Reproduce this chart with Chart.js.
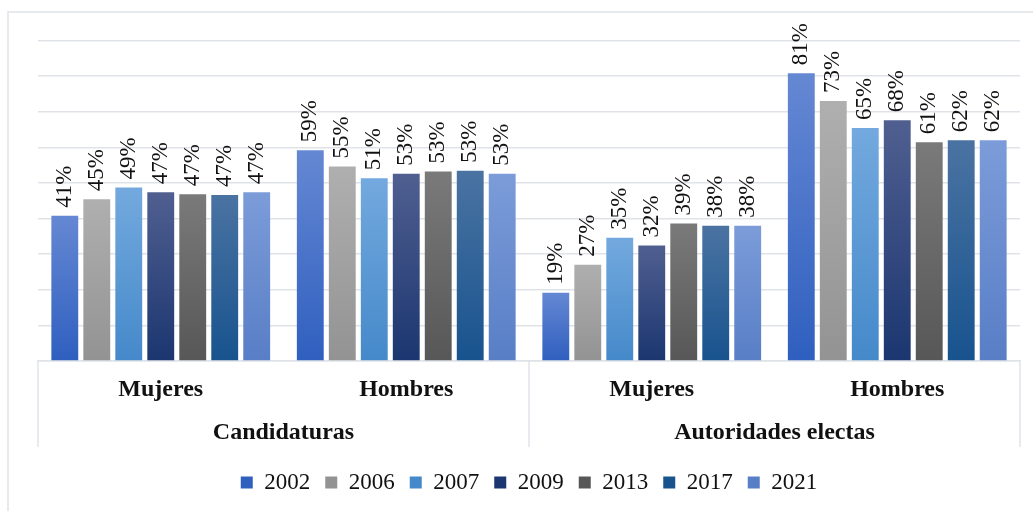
<!DOCTYPE html>
<html>
<head>
<meta charset="utf-8">
<script src="https://cdn.jsdelivr.net/npm/chart.js"></script>
<style>
    body { margin: 0; background: #fff; }
</style>
</head>
<body>
<canvas id="bar-chart" width="1033" height="511"></canvas>
<script>
    var categories = ['Mujeres', 'Hombres', 'Mujeres', 'Hombres'];
    var groups = ['Candidaturas', 'Autoridades electas'];
    var years = ['2002', '2006', '2007', '2009', '2013', '2017', '2021'];

    // porcentajes (Mujeres/Hombres por grupo)
    var v2002 = [40.8, 59.2, 19.2, 80.8];
    var v2006 = [45.4, 54.6, 27.0, 73.0];
    var v2007 = [48.7, 51.3, 34.6, 65.4];
    var v2009 = [47.4, 52.6, 32.4, 67.6];
    var v2013 = [46.8, 53.2, 38.6, 61.4];
    var v2017 = [46.6, 53.4, 38.0, 62.0];
    var v2021 = [47.4, 52.6, 38.0, 62.0];

    var values = [v2002, v2006, v2007, v2009, v2013, v2017, v2021];

    // colores: arriba claro, abajo oscuro, y el color medio para la leyenda
    var topColors = ['#6588d3', '#afafaf', '#73a9de', '#505f90', '#7a7a7a', '#4a73a2', '#7c9cd9'];
    var bottomColors = ['#2f5fbf', '#939393', '#4589ca', '#1b3670', '#575757', '#18538e', '#587ec6'];
    var midColors = ['#4a73c9', '#a0a0a0', '#5c99d4', '#354a80', '#686868', '#2f6399', '#6a8dd0'];

    var serif = "'Liberation Serif', 'Times New Roman', serif";
    var lineColor = '#dfe3e8';

    function barFill(i) {
        return function (ctx) {
            var chart = ctx.chart;
            if (ctx.type !== 'data' || !chart.chartArea) {
                return midColors[i];
            }
            var y = chart.scales.y;
            var top = y.getPixelForValue(ctx.raw);
            var base = y.getPixelForValue(0);
            var g = chart.ctx.createLinearGradient(0, top, 0, base);
            g.addColorStop(0, topColors[i]);
            g.addColorStop(1, bottomColors[i]);
            return g;
        };
    }

    var datasets = years.map(function (year, i) {
        return {
            label: year,
            data: values[i],
            backgroundColor: barFill(i),
            borderWidth: 0,
            categoryPercentage: 0.912,
            barPercentage: 0.84
        };
    });

    var framePlugin = {
        id: 'frame',
        beforeDraw: function (chart) {
            var c = chart.ctx;
            c.save();
            c.fillStyle = '#fff';
            c.fillRect(0, 0, chart.width, chart.height);
            c.strokeStyle = lineColor;
            c.lineWidth = 1.5;
            c.strokeRect(8, 12, chart.width + 20, chart.height + 20);
            c.restore();
        },
        afterDraw: function (chart) {
            var c = chart.ctx;
            var xs = chart.scales.x;
            var x2 = chart.scales.x2;

            // separadores del eje de categorias
            var mid = (xs.getPixelForTick(1) + xs.getPixelForTick(2)) / 2;
            c.save();
            c.strokeStyle = lineColor;
            c.lineWidth = 1.5;
            [xs.left, mid, xs.right].forEach(function (px) {
                c.beginPath();
                c.moveTo(px, xs.top);
                c.lineTo(px, x2.bottom - 9);
                c.stroke();
            });
            c.restore();

            // etiquetas de valor giradas
            c.save();
            c.fillStyle = '#111';
            c.font = '23px ' + serif;
            c.textAlign = 'left';
            c.textBaseline = 'middle';
            chart.data.datasets.forEach(function (ds, i) {
                var meta = chart.getDatasetMeta(i);
                meta.data.forEach(function (bar, j) {
                    c.save();
                    c.translate(bar.x, bar.y - 8);
                    c.rotate(-Math.PI / 2);
                    c.fillText(Math.round(ds.data[j]) + '%', 0, 0);
                    c.restore();
                });
            });
            c.restore();
        }
    };

    var ctx = document.getElementById('bar-chart');
    var chart = new Chart(ctx, {

        type: 'bar',

        data: {
            labels: categories,
            datasets: datasets
        },

        options: {
            responsive: false,
            animation: false,
            layout: {
                padding: { top: 40.5, left: 38, right: 13, bottom: 7 }
            },
            plugins: {
                legend: {
                    position: 'bottom',
                    labels: {
                        boxWidth: 12,
                        boxHeight: 12,
                        padding: 15,
                        color: '#111',
                        font: { family: serif, size: 23 }
                    }
                },
                tooltip: { enabled: false }
            },
            scales: {
                y: {
                    min: 0,
                    max: 90,
                    ticks: { display: false, stepSize: 10 },
                    grid: { color: lineColor, lineWidth: 1.5, drawTicks: false },
                    border: { display: false },
                    afterFit: function (s) { s.width = 0; }
                },
                x: {
                    grid: { display: false, drawTicks: false },
                    border: { display: true, color: lineColor, width: 1.5 },
                    ticks: {
                        padding: 14,
                        color: '#111',
                        maxRotation: 0,
                        font: { family: serif, size: 24, weight: 'bold' }
                    },
                    afterFit: function (s) { s.height = 42; }
                },
                x2: {
                    type: 'category',
                    labels: groups,
                    position: 'bottom',
                    grid: { display: false, drawTicks: false },
                    border: { display: false },
                    ticks: {
                        padding: 15,
                        color: '#111',
                        maxRotation: 0,
                        font: { family: serif, size: 24, weight: 'bold' }
                    },
                    afterFit: function (s) { s.height = 53; }
                }
            }
        },

        plugins: [framePlugin]
    });
</script>
</body>
</html>
